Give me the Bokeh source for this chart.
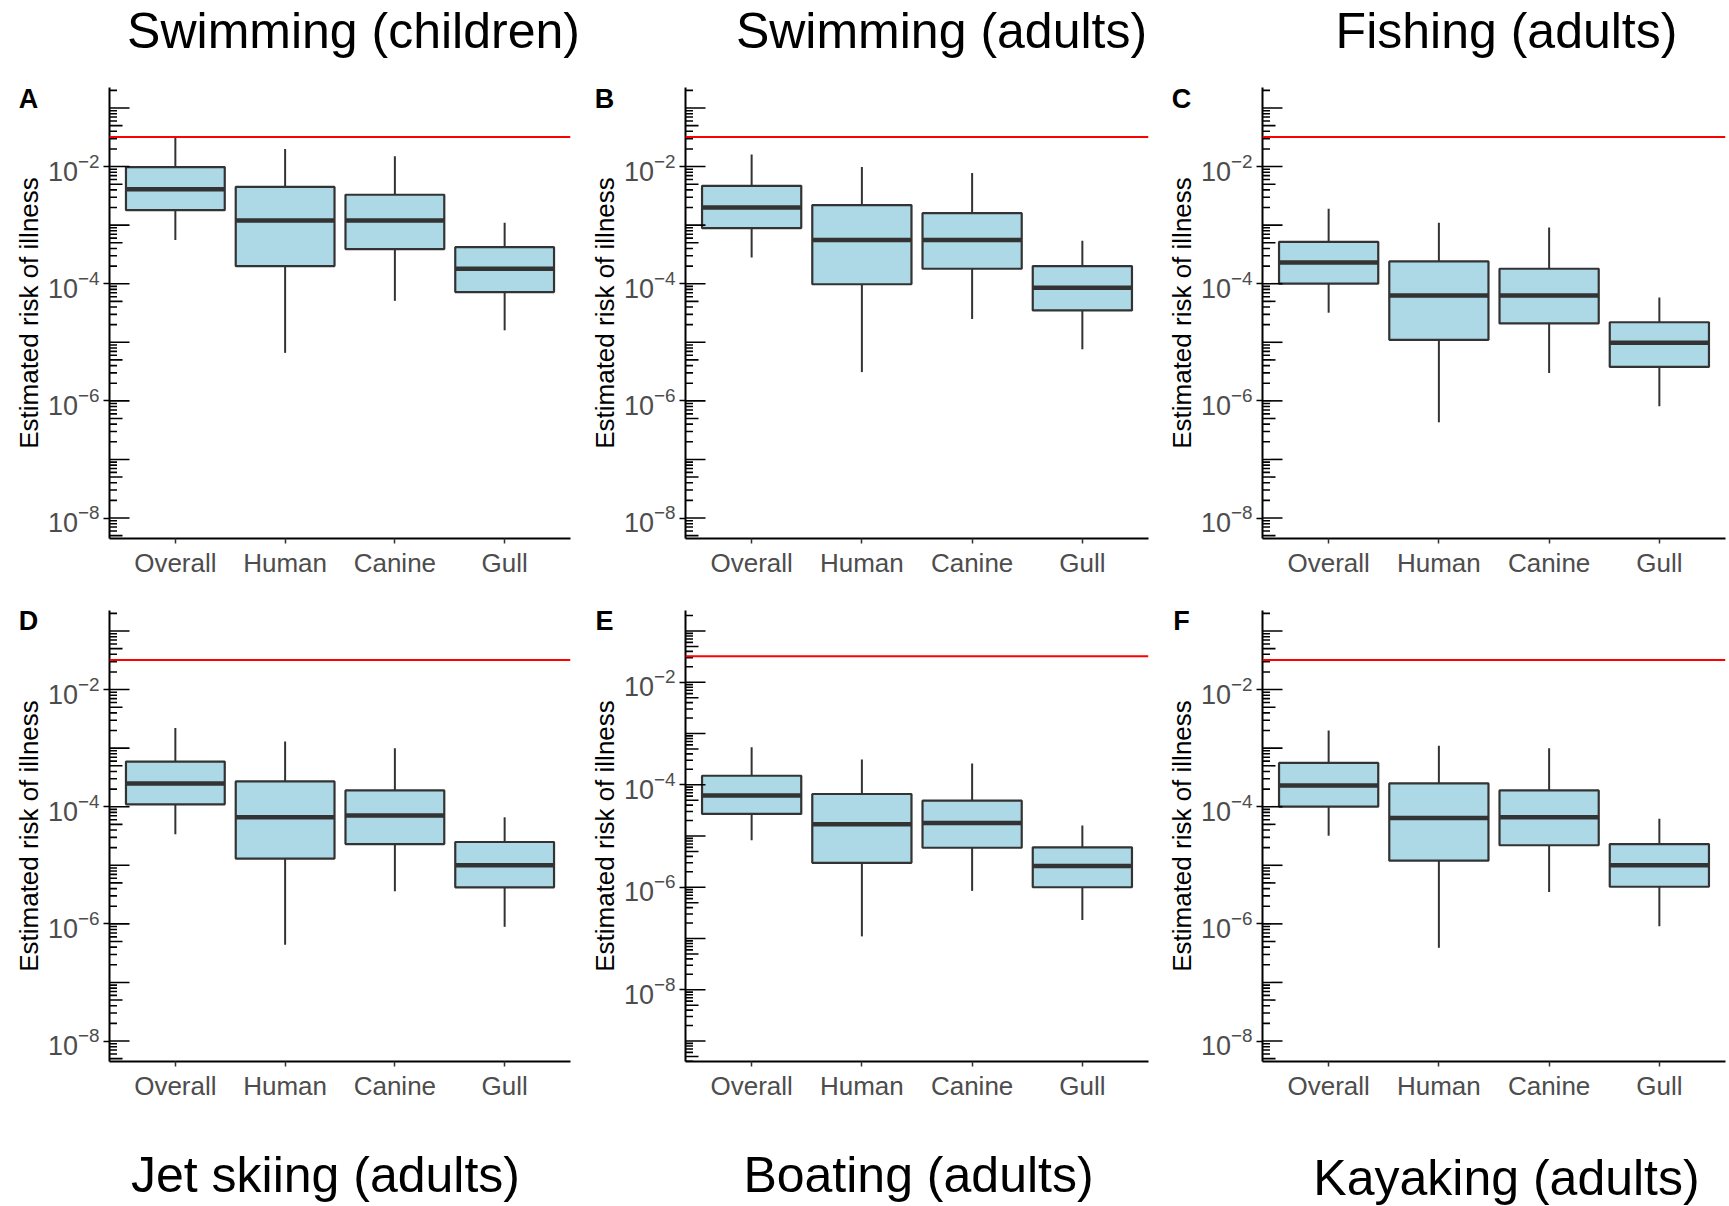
import math

from bokeh.core.properties import value
from bokeh.embed import file_html
from bokeh.layouts import column, row
from bokeh.models import ColumnDataSource, FactorRange, FixedTicker, Range1d, Span
from bokeh.plotting import figure
from bokeh.resources import INLINE
from bokeh.transform import dodge

# ---------------------------------------------------------------- data
sources = ["Overall", "Human", "Canine", "Gull"]

# five-number summaries of the estimated risk of illness (probability)
swim_child_lo = [5.6e-4, 6.6e-6, 5.1e-5, 1.6e-5]
swim_child_q1 = [1.8e-3, 2.0e-4, 3.9e-4, 7.2e-5]
swim_child_med = [4.1e-3, 1.2e-3, 1.2e-3, 1.8e-4]
swim_child_q3 = [9.8e-3, 4.5e-3, 3.3e-3, 4.2e-4]
swim_child_hi = [3.2e-2, 2.0e-2, 1.5e-2, 1.1e-3]

swim_adult_lo = [2.8e-4, 3.1e-6, 2.5e-5, 7.6e-6]
swim_adult_q1 = [8.9e-4, 9.8e-5, 1.8e-4, 3.5e-5]
swim_adult_med = [2.0e-3, 5.6e-4, 5.6e-4, 8.5e-5]
swim_adult_q3 = [4.7e-3, 2.2e-3, 1.6e-3, 2.0e-4]
swim_adult_hi = [1.6e-2, 9.8e-3, 7.8e-3, 5.4e-4]

fishing_lo = [3.2e-5, 4.3e-7, 3.0e-6, 8.1e-7]
fishing_q1 = [1.0e-4, 1.1e-5, 2.1e-5, 3.8e-6]
fishing_med = [2.3e-4, 6.3e-5, 6.3e-5, 9.8e-6]
fishing_q3 = [5.2e-4, 2.4e-4, 1.8e-4, 2.2e-5]
fishing_hi = [1.9e-3, 1.1e-3, 9.1e-4, 5.8e-5]

jetski_lo = [3.4e-5, 4.4e-7, 3.6e-6, 8.9e-7]
jetski_q1 = [1.1e-4, 1.3e-5, 2.3e-5, 4.2e-6]
jetski_med = [2.5e-4, 6.6e-5, 7.1e-5, 1.0e-5]
jetski_q3 = [5.9e-4, 2.7e-4, 1.9e-4, 2.5e-5]
jetski_hi = [2.2e-3, 1.3e-3, 1.0e-3, 6.6e-5]

boating_lo = [8.3e-6, 1.1e-7, 8.5e-7, 2.3e-7]
boating_q1 = [2.7e-5, 3.0e-6, 5.9e-6, 1.0e-6]
boating_med = [6.2e-5, 1.7e-5, 1.8e-5, 2.6e-6]
boating_q3 = [1.5e-4, 6.6e-5, 4.9e-5, 6.0e-6]
boating_hi = [5.4e-4, 3.1e-4, 2.6e-4, 1.6e-5]

kayak_lo = [3.2e-5, 3.9e-7, 3.5e-6, 9.1e-7]
kayak_q1 = [1.0e-4, 1.2e-5, 2.2e-5, 4.3e-6]
kayak_med = [2.3e-4, 6.4e-5, 6.6e-5, 1.0e-5]
kayak_q3 = [5.6e-4, 2.5e-4, 1.9e-4, 2.3e-5]
kayak_hi = [2.0e-3, 1.1e-3, 1.0e-3, 6.2e-5]

# benchmark risk drawn as the red reference line
benchmark = 0.032

# y-axis limits of each panel (before 5% expansion on the log scale)
limits_default = (1e-8, 1e-1)
limits_boating = (1e-9, 1e-1)

y_tick_values = [1e-8, 1e-6, 1e-4, 1e-2]
y_axis_title = "Estimated risk of illness"

top_titles = ["Swimming (children)", "Swimming (adults)", "Fishing (adults)"]
bottom_titles = ["Jet skiing (adults)", "Boating (adults)", "Kayaking (adults)"]

panels = [
    ("A", swim_child_lo, swim_child_q1, swim_child_med, swim_child_q3, swim_child_hi, limits_default),
    ("B", swim_adult_lo, swim_adult_q1, swim_adult_med, swim_adult_q3, swim_adult_hi, limits_default),
    ("C", fishing_lo, fishing_q1, fishing_med, fishing_q3, fishing_hi, limits_default),
    ("D", jetski_lo, jetski_q1, jetski_med, jetski_q3, jetski_hi, limits_default),
    ("E", boating_lo, boating_q1, boating_med, boating_q3, boating_hi, limits_boating),
    ("F", kayak_lo, kayak_q1, kayak_med, kayak_q3, kayak_hi, limits_default),
]

# ---------------------------------------------------------------- layout
FONT = "Liberation Sans"
STRIP_W = [43, 42, 42]       # narrow columns holding the panel letter and y title
STRIP_TEXT_X = [28, 27, 27]
COL_W = [534, 535, 533]      # panel figure widths (after the strip)
COL_LEFT = [66, 66, 66]
COL_RIGHT = [7, 6, 4]
ROW_H = [520, 520]
ROW_TOP = [17, 20]
ROW_BOTTOM = [52, 49]
LETTER_Y = [28.5, 30]
TOP_STRIP_H = 70
BOTTOM_STRIP_H = 96


def style_blank(f):
    f.xgrid.visible = False
    f.ygrid.visible = False
    f.outline_line_color = None
    f.background_fill_color = "white"
    f.border_fill_color = "white"


def pixel_canvas(width, height, top=0, bottom=0):
    # a blank figure whose data coordinates are pixels measured from its top-left
    f = figure(width=width, height=height, title=None,
               x_range=Range1d(0, width), y_range=Range1d(height - bottom, top),
               output_backend="svg", toolbar_location=None,
               min_border_left=0, min_border_right=0,
               min_border_top=top, min_border_bottom=bottom,
               x_axis_location=None, y_axis_location=None)
    style_blank(f)
    return f


def side_strip(letter, c, r):
    f = pixel_canvas(STRIP_W[c], ROW_H[r], ROW_TOP[r], ROW_BOTTOM[r])
    f.text(x=[STRIP_TEXT_X[c]], y=[LETTER_Y[r]], text=[letter], text_font=value(FONT),
           text_font_size="27px", text_font_style="bold", text_color="black",
           text_align="center", text_baseline="middle")
    frame_mid = ROW_TOP[r] + (ROW_H[r] - ROW_TOP[r] - ROW_BOTTOM[r]) / 2
    f.text(x=[STRIP_TEXT_X[c]], y=[frame_mid], text=[y_axis_title], text_font=value(FONT),
           text_font_size="26px", text_color="black", angle=math.pi / 2,
           text_align="center", text_baseline="middle")
    return f


def make_panel(idx, letter, lo, q1, med, q3, hi, limits):
    c, r = idx % 3, idx // 3
    lmin, lmax = math.log10(limits[0]), math.log10(limits[1])
    pad = 0.05 * (lmax - lmin)
    y_range = Range1d(10 ** (lmin - pad), 10 ** (lmax + pad))
    x_range = FactorRange(factors=sources, range_padding=0.1, range_padding_units="absolute")

    p = figure(
        width=COL_W[c], height=ROW_H[r], title=None,
        x_range=x_range, y_range=y_range, y_axis_type="log",
        output_backend="svg", toolbar_location=None,
        min_border_left=COL_LEFT[c], min_border_right=COL_RIGHT[c],
        min_border_top=ROW_TOP[r], min_border_bottom=ROW_BOTTOM[r],
    )
    style_blank(p)

    src = ColumnDataSource(dict(cat=sources, lo=lo, q1=q1, med=med, q3=q3, hi=hi))

    # whiskers
    p.segment(x0="cat", y0="q3", x1="cat", y1="hi", source=src,
              line_color="#333333", line_width=2)
    p.segment(x0="cat", y0="lo", x1="cat", y1="q1", source=src,
              line_color="#333333", line_width=2)
    # boxes
    p.vbar(x="cat", width=0.9, bottom="q1", top="q3", source=src,
           fill_color="#ADD8E6", line_color="#333333", line_width=2.2)
    # medians
    p.segment(x0=dodge("cat", -0.45, range=x_range), y0="med",
              x1=dodge("cat", 0.45, range=x_range), y1="med", source=src,
              line_color="#333333", line_width=4.5)

    # log ticks drawn inside the panel along the left edge
    ty, tl = [], []
    for k in range(-10, 1):
        for m in range(1, 10):
            v = m * 10.0 ** k
            if y_range.start <= v <= y_range.end:
                ty.append(v)
                tl.append(20 if m == 1 else (13 if m == 5 else 7.5))
    tick_src = ColumnDataSource(dict(anchor=[sources[0]] * len(ty), y=ty, len=tl))
    p.ray(x=dodge("anchor", -0.6, range=x_range), y="y", length="len",
          length_units="screen", angle=0, source=tick_src,
          line_color="black", line_width=1.6)

    p.add_layout(Span(location=benchmark, dimension="width",
                      line_color="red", line_width=2))

    # y axis
    ya = p.yaxis[0]
    ya.ticker = FixedTicker(ticks=y_tick_values)
    ya.axis_line_color = "black"
    ya.axis_line_width = 2
    ya.major_tick_line_color = "black"
    ya.major_tick_line_width = 1.5
    ya.major_tick_out = 6
    ya.major_tick_in = 0
    ya.minor_tick_out = 0
    ya.minor_tick_in = 0
    ya.major_label_text_font = FONT
    ya.major_label_text_font_size = "27px"
    ya.major_label_text_color = "#4D4D4D"
    ya.major_label_standoff = 4

    # x axis
    xa = p.xaxis[0]
    xa.axis_line_color = "black"
    xa.axis_line_width = 2
    xa.major_tick_line_color = "#333333"
    xa.major_tick_line_width = 1.5
    xa.major_tick_out = 5
    xa.major_tick_in = 0
    xa.major_label_text_font = FONT
    xa.major_label_text_font_size = "26px"
    xa.major_label_text_color = "#4D4D4D"
    xa.major_label_standoff = 4

    return side_strip(letter, c, r), p


def text_strip(height, labels, xs, ys):
    f = pixel_canvas(1729, height)
    f.text(x=xs, y=ys, text=labels, text_font=value(FONT), text_font_size="50px",
           text_align="center", text_baseline="middle", text_color="black")
    return f


cells = []
for i, spec in enumerate(panels):
    cells.extend(make_panel(i, *spec))

top = text_strip(TOP_STRIP_H, top_titles, [353, 941, 1506], [30, 30, 30])
bottom = text_strip(BOTTOM_STRIP_H, bottom_titles, [325, 918, 1506], [64, 64, 67])

layout = column(top, row(*cells[:6]), row(*cells[6:]), bottom)

open("out.html", "w").write(file_html(layout, INLINE))
